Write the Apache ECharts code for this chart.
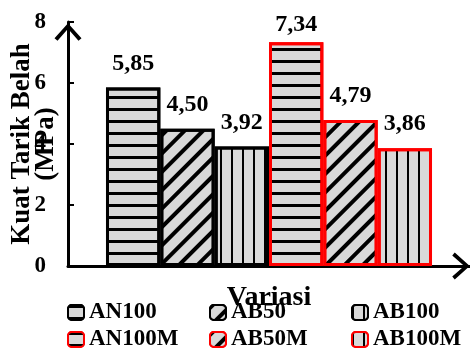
<!DOCTYPE html>
<html>
<head>
<meta charset="utf-8">
<style>html,body{margin:0;padding:0;background:#fff}#c{width:470px;height:350px}</style>
<script src="https://cdn.jsdelivr.net/npm/echarts@6/dist/echarts.min.js"></script>
</head>
<body>
<div id="c"></div>
<script>
// Data
const seriesNames = ['AN100', 'AB50', 'AB100', 'AN100M', 'AB50M', 'AB100M'];
const seriesValues = [5.85, 4.50, 3.92, 7.34, 4.79, 3.86];
const groupCategories = [''];
const yTicks = [0, 2, 4, 6, 8];

// Styles (separate from data)
const FONT = '"Liberation Serif", "Times New Roman", serif';
const borderColors = ['#000', '#000', '#000', '#ff0000', '#ff0000', '#ff0000'];
const decals = {
  h: { symbol: 'rect', dashArrayX: [1, 0], dashArrayY: [2.5, 8.5], color: '#000' },
  d: { symbol: 'rect', dashArrayX: [1, 0], dashArrayY: [3.5, 8.5], rotation: -Math.PI / 4, color: '#000' },
  v: { symbol: 'rect', dashArrayX: [2, 9], dashArrayY: [1, 0], color: '#000' }
};
const decalKinds = ['h', 'd', 'v', 'h', 'd', 'v'];
const labelDist = [12, 12, 12, 5, 12, 12];

const chevron = 'path://M0,15 L13.5,0 L27,15 L24,17.5 L13.5,5.5 L3,17.5 Z';

const chart = echarts.init(document.getElementById('c'), null, { renderer: 'canvas' });

const series = seriesNames.map((n, i) => ({
  name: n,
  type: 'bar',
  data: [seriesValues[i]],
  barGap: '0%',
  barCategoryGap: '18.9%',
  itemStyle: {
    color: '#d9d9d9',
    borderColor: borderColors[i],
    borderWidth: 3,
    decal: decals[decalKinds[i]]
  },
  label: {
    show: true,
    position: 'top',
    distance: labelDist[i],
    color: '#000',
    fontFamily: FONT,
    fontWeight: 'bold',
    fontSize: 24,
    formatter: p => p.value.toFixed(2).replace('.', ',')
  },
  emphasis: { disabled: true }
}));

const legendCommon = {
  orient: 'vertical',
  top: 301,
  height: 60,
  padding: 0,
  itemWidth: 16,
  itemHeight: 15,
  itemGap: 4,
  icon: 'roundRect',
  itemTextGap: 5,
  textStyle: { color: '#000', fontFamily: FONT, fontWeight: 'bold', fontSize: 23, lineHeight: 23 },
  selectedMode: false
};

chart.setOption({
  animation: false,
  backgroundColor: '#fff',
  grid: { left: 68, right: 0, top: 22, bottom: 84, containLabel: false, outerBoundsMode: 'none' },
  xAxis: {
    type: 'category',
    data: groupCategories,
    axisLine: {
      show: true,
      lineStyle: { color: '#000', width: 3 },
      symbol: ['none', chevron],
      symbolSize: [27, 18],
      symbolOffset: [0, -9]
    },
    axisTick: { show: false },
    axisLabel: { show: false },
    name: 'Variasi',
    nameLocation: 'middle',
    nameGap: 18,
    nameMoveOverlap: false,
    nameTextStyle: { color: '#000', fontFamily: FONT, fontWeight: 'bold', fontSize: 28 }
  },
  yAxis: {
    type: 'value',
    min: yTicks[0],
    max: yTicks[yTicks.length - 1],
    interval: yTicks[1] - yTicks[0],
    axisLine: {
      show: true,
      lineStyle: { color: '#000', width: 3 },
      symbol: ['none', chevron],
      symbolSize: [27, 18],
      symbolOffset: [0, -10]
    },
    axisTick: { show: true, inside: true, length: 6, lineStyle: { color: '#000', width: 2 } },
    axisLabel: { color: '#000', fontFamily: FONT, fontWeight: 'bold', fontSize: 23, margin: 22 },
    splitLine: { show: false },
    name: 'Kuat Tarik Belah\n(MPa)',
    nameLocation: 'middle',
    nameRotate: 90,
    nameGap: 10,
    nameMoveOverlap: false,
    nameTextStyle: { color: '#000', fontFamily: FONT, fontWeight: 'bold', fontSize: 27, lineHeight: 24 }
  },
  legend: [
    Object.assign({}, legendCommon, { left: 67, data: [seriesNames[0], seriesNames[3]] }),
    Object.assign({}, legendCommon, { left: 209, data: [seriesNames[1], seriesNames[4]] }),
    Object.assign({}, legendCommon, { left: 351, data: [seriesNames[2], seriesNames[5]] })
  ],
  series: series
});
</script>
</body>
</html>
